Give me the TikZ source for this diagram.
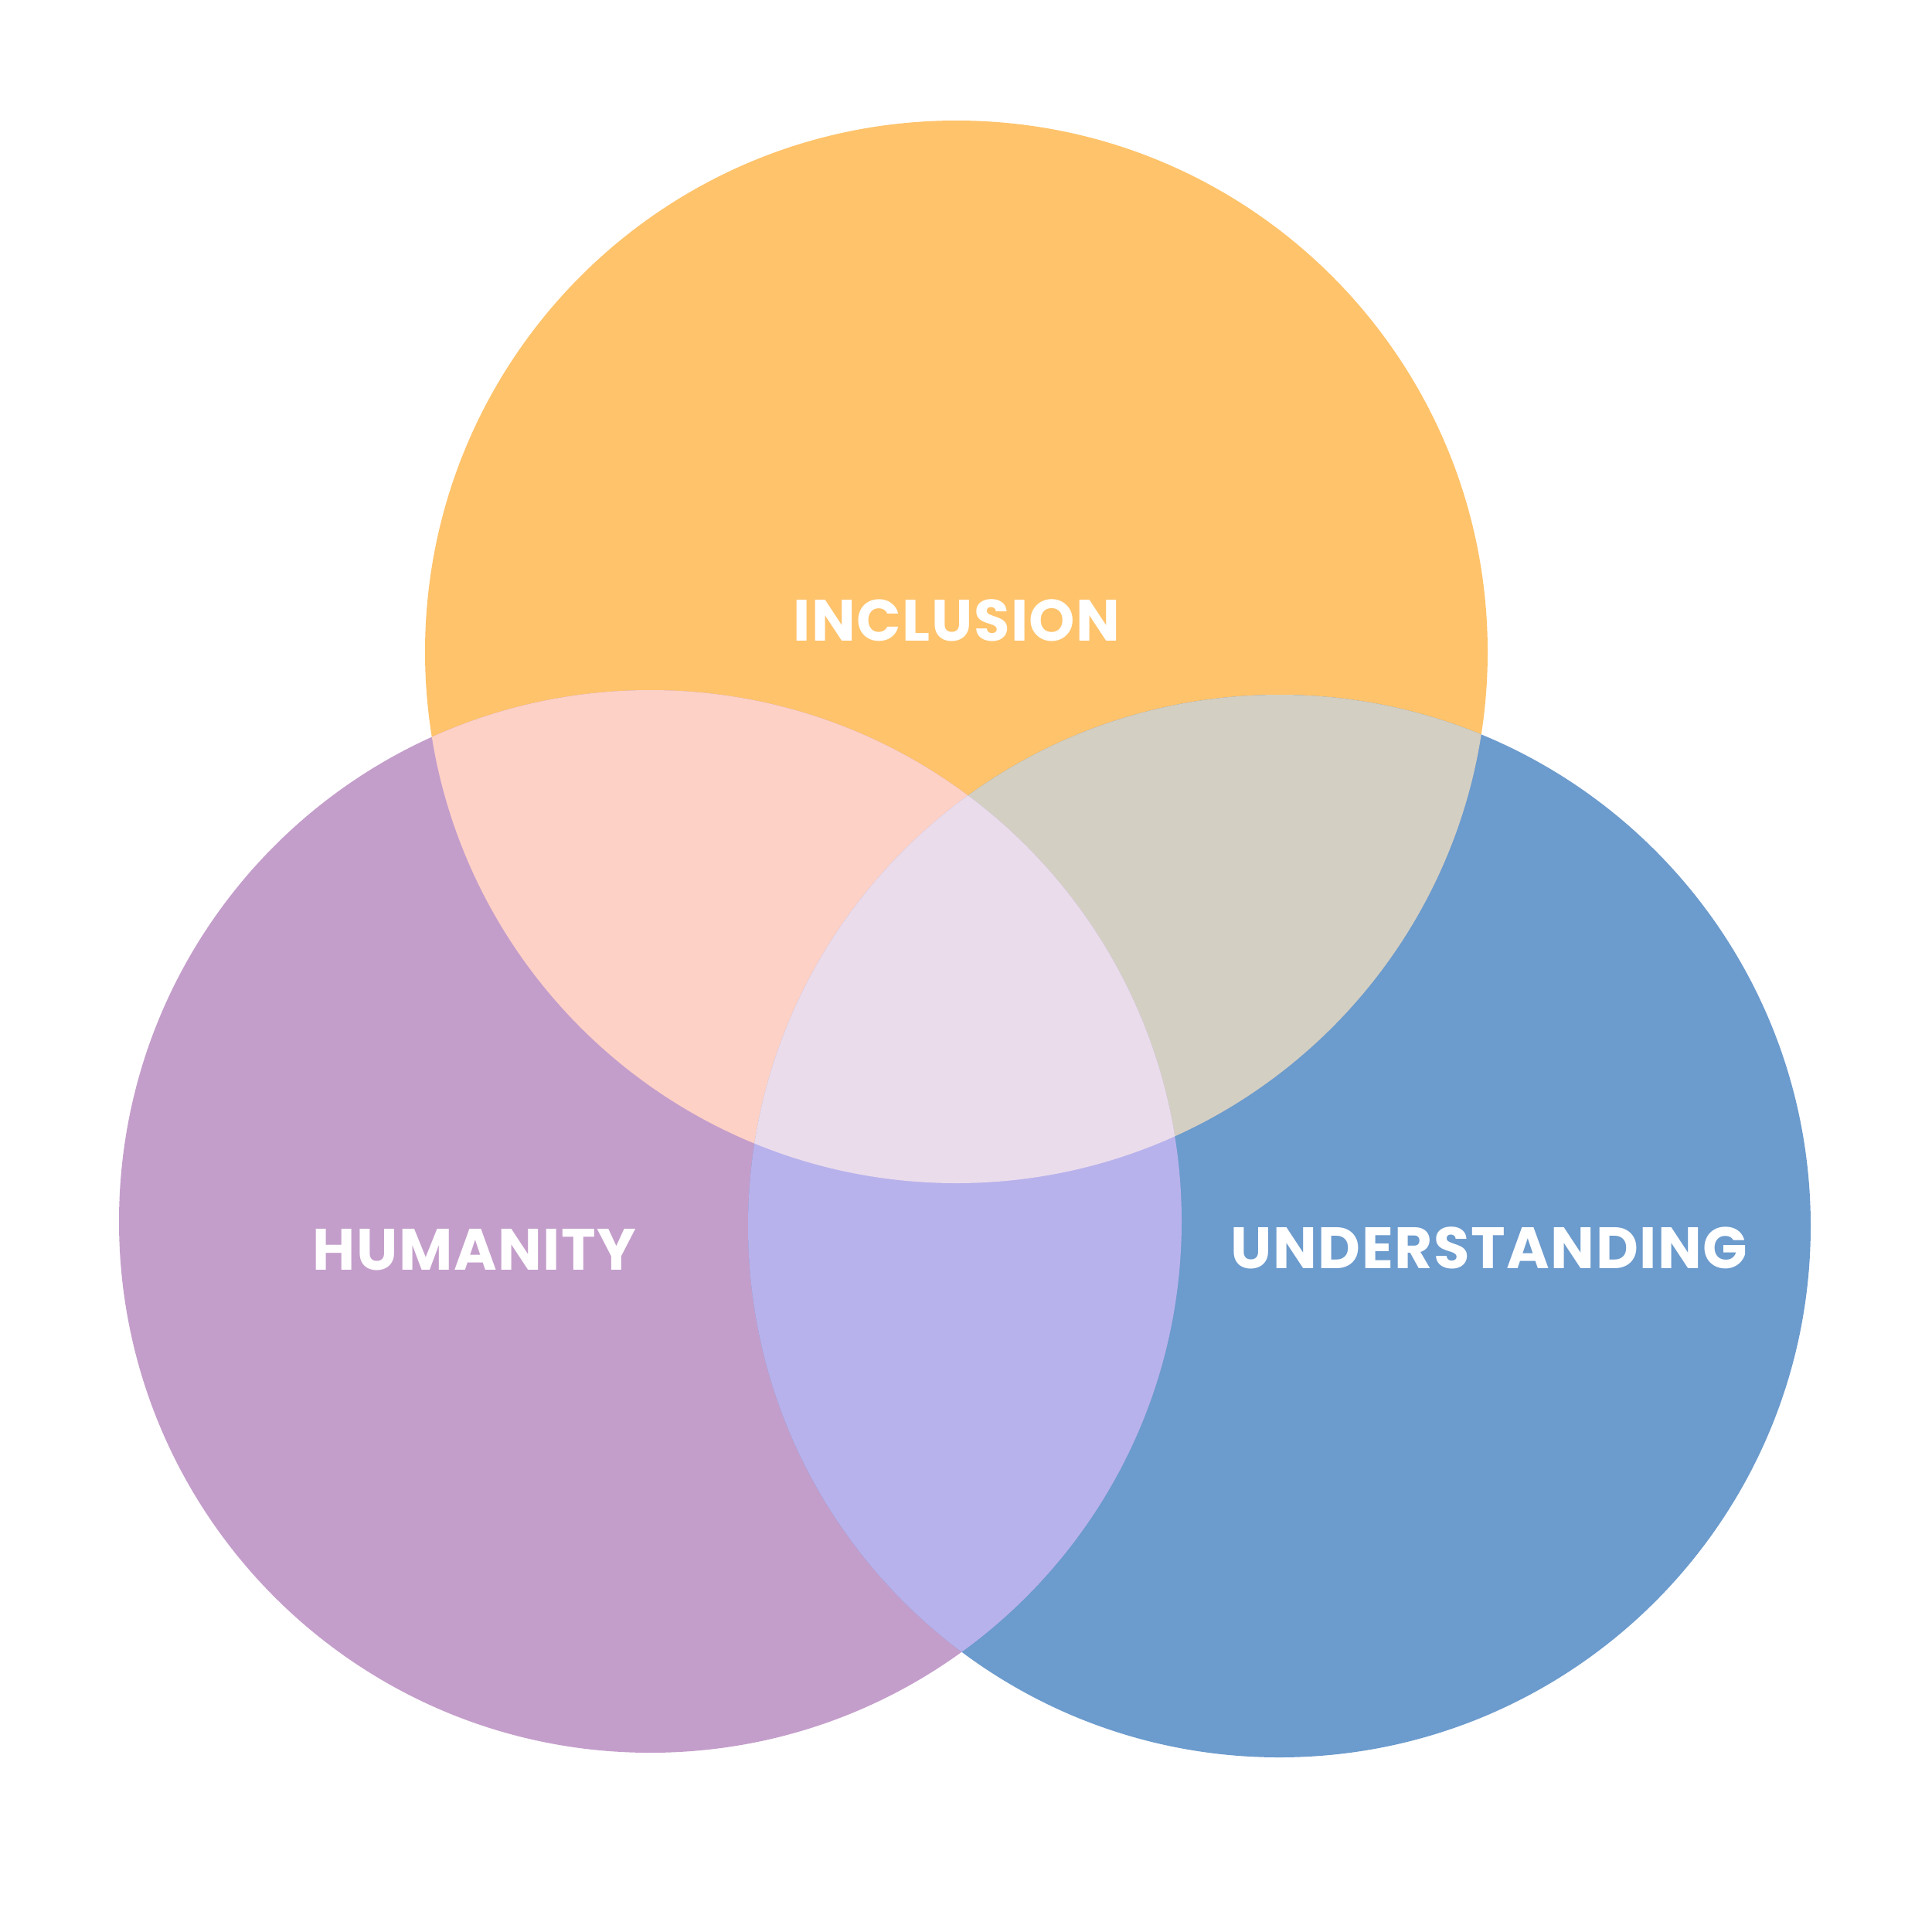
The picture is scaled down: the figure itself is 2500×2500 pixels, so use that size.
\documentclass[tikz,border=0pt]{standalone}
\usepackage{fontspec}
\usetikzlibrary{positioning}
\newfontfamily\vennfont{Poppins}[LetterSpace=2]
\definecolor{inclc}{HTML}{FEC36B}
\definecolor{humc}{HTML}{C49ECB}
\definecolor{undc}{HTML}{6C9BCD}
\definecolor{ihc}{HTML}{FDD1C6}
\definecolor{iuc}{HTML}{D4CFC3}
\definecolor{huc}{HTML}{B8B2EC}
\definecolor{allc}{HTML}{EADCEB}
\tikzset{
  setc/.style={radius=68.75mm},
  lbl/.style={font=\vennfont\bfseries\fontsize{21.5}{24}\selectfont, text=white, inner sep=0pt},
}

\begin{document}
\begin{tikzpicture}[x=0.1mm, y=-0.1mm]
\useasboundingbox (0,0) rectangle (2500,2500);
\coordinate (incl) at (1237.5,843.5);
\coordinate (hum) at (841.5,1580.5);
\coordinate (und) at (1655.5,1586.5);
% sets
\fill[inclc] (incl) circle[setc];
\fill[humc] (hum) circle[setc];
\fill[undc] (und) circle[setc];
% pairwise overlaps
\begin{scope} \clip (incl) circle[setc]; \fill[ihc] (hum) circle[setc]; \end{scope}
\begin{scope} \clip (incl) circle[setc]; \fill[iuc] (und) circle[setc]; \end{scope}
\begin{scope} \clip (hum) circle[setc]; \fill[huc] (und) circle[setc]; \end{scope}
% centre
\begin{scope}
  \clip (incl) circle[setc]; \clip (hum) circle[setc];
  \fill[allc] (und) circle[setc];
\end{scope}
\node[lbl] (inclLbl) at (1238,803) {INCLUSION};
\node[lbl] (humLbl) at (614,1617) {HUMANITY};
\node[lbl] (undLbl) at (1927,1615) {UNDERSTANDING};
\end{tikzpicture}
\end{document}
